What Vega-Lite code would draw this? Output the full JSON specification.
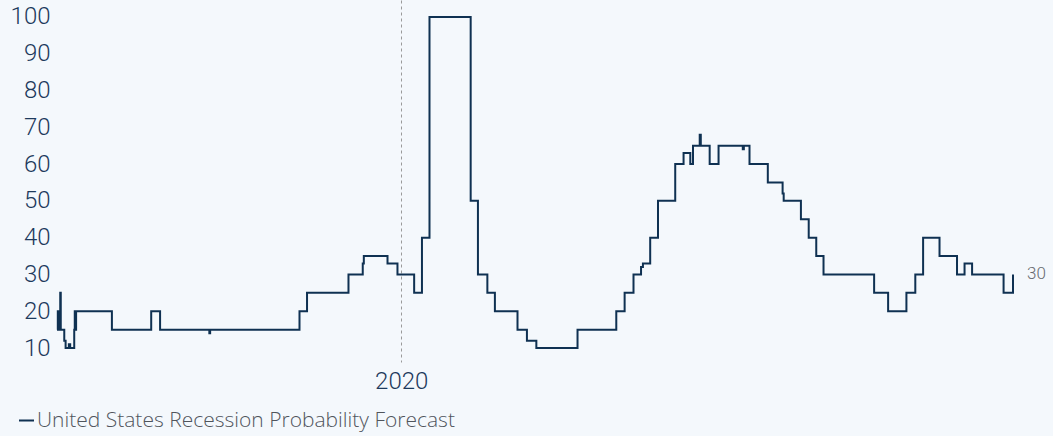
{
  "$schema": "https://vega.github.io/schema/vega-lite/v6.json",
  "width": 956,
  "height": 362,
  "autosize": {"type": "none"},
  "padding": {"left": 57, "top": 0, "right": 40, "bottom": 74},
  "background": "#f4f8fc",
  "config": {"view": {"stroke": null}, "font": "Roboto"},
  "data": {
    "values": [
      {"date": "2016-07-01", "value": 15},
      {"date": "2016-07-04", "value": 20},
      {"date": "2016-07-05", "value": 15},
      {"date": "2016-07-07", "value": 20},
      {"date": "2016-07-11", "value": 15},
      {"date": "2016-07-13", "value": 25},
      {"date": "2016-07-15", "value": 15},
      {"date": "2016-07-28", "value": 12},
      {"date": "2016-08-02", "value": 10},
      {"date": "2016-08-14", "value": 11},
      {"date": "2016-08-19", "value": 10},
      {"date": "2016-09-03", "value": 15},
      {"date": "2016-09-05", "value": 20},
      {"date": "2016-09-08", "value": 15},
      {"date": "2016-09-10", "value": 20},
      {"date": "2017-01-21", "value": 15},
      {"date": "2017-06-16", "value": 20},
      {"date": "2017-07-19", "value": 15},
      {"date": "2018-01-18", "value": 14},
      {"date": "2018-01-21", "value": 15},
      {"date": "2018-12-19", "value": 20},
      {"date": "2019-01-16", "value": 25},
      {"date": "2019-06-19", "value": 30},
      {"date": "2019-08-11", "value": 33},
      {"date": "2019-08-15", "value": 35},
      {"date": "2019-11-11", "value": 33},
      {"date": "2019-12-18", "value": 30},
      {"date": "2020-02-18", "value": 25},
      {"date": "2020-03-18", "value": 40},
      {"date": "2020-04-15", "value": 100},
      {"date": "2020-09-15", "value": 50},
      {"date": "2020-10-12", "value": 30},
      {"date": "2020-11-16", "value": 25},
      {"date": "2020-12-14", "value": 20},
      {"date": "2021-03-08", "value": 15},
      {"date": "2021-04-12", "value": 12},
      {"date": "2021-05-17", "value": 10},
      {"date": "2021-10-17", "value": 15},
      {"date": "2022-03-10", "value": 20},
      {"date": "2022-04-10", "value": 25},
      {"date": "2022-05-13", "value": 30},
      {"date": "2022-06-10", "value": 32},
      {"date": "2022-06-17", "value": 33},
      {"date": "2022-07-14", "value": 40},
      {"date": "2022-08-12", "value": 50},
      {"date": "2022-10-15", "value": 60},
      {"date": "2022-11-15", "value": 63},
      {"date": "2022-12-10", "value": 60},
      {"date": "2022-12-20", "value": 65},
      {"date": "2023-01-14", "value": 68},
      {"date": "2023-01-18", "value": 65},
      {"date": "2023-02-20", "value": 60},
      {"date": "2023-03-25", "value": 65},
      {"date": "2023-06-23", "value": 64},
      {"date": "2023-06-27", "value": 65},
      {"date": "2023-07-18", "value": 60},
      {"date": "2023-09-24", "value": 55},
      {"date": "2023-11-18", "value": 52},
      {"date": "2023-11-22", "value": 50},
      {"date": "2024-01-25", "value": 45},
      {"date": "2024-02-23", "value": 40},
      {"date": "2024-03-22", "value": 35},
      {"date": "2024-04-18", "value": 30},
      {"date": "2024-10-23", "value": 25},
      {"date": "2024-12-14", "value": 20},
      {"date": "2025-02-20", "value": 25},
      {"date": "2025-03-25", "value": 30},
      {"date": "2025-04-23", "value": 40},
      {"date": "2025-06-23", "value": 35},
      {"date": "2025-08-27", "value": 30},
      {"date": "2025-09-24", "value": 33},
      {"date": "2025-10-22", "value": 30},
      {"date": "2026-02-16", "value": 25},
      {"date": "2026-03-23", "value": 30}
    ]
  },
  "layer": [
    {
      "mark": {"type": "line", "interpolate": "step-after", "strokeWidth": 2},
      "encoding": {
        "x": {
          "field": "date",
          "type": "temporal",
          "scale": {
            "type": "utc",
            "nice": false,
            "domain": [
              {"year": 2016, "month": 7, "date": 1, "utc": true},
              {"year": 2026, "month": 3, "date": 23, "utc": true}
            ]
          },
          "axis": {
            "title": null,
            "values": [{"year": 2020, "month": 1, "date": 1, "utc": true}],
            "format": "%Y",
            "domain": false,
            "ticks": false,
            "grid": true,
            "gridDash": [3, 3],
            "gridColor": "#9a9a9a",
            "gridWidth": 1,
            "labelFontSize": 24,
            "labelFontWeight": 300,
            "labelColor": "#1d3a5c",
            "labelPadding": 7,
            "labelFlush": false
          }
        },
        "y": {
          "field": "value",
          "type": "quantitative",
          "scale": {"domain": [6.2, 104.6], "nice": false, "zero": false},
          "axis": {
            "title": null,
            "values": [10, 20, 30, 40, 50, 60, 70, 80, 90, 100],
            "domain": false,
            "ticks": false,
            "grid": false,
            "labelFontSize": 24,
            "labelFontWeight": 300,
            "labelColor": "#1d3a5c",
            "labelPadding": 7
          }
        },
        "color": {
          "datum": "United States Recession Probability Forecast",
          "scale": {"range": ["#0f3152"]},
          "legend": {
            "title": null,
            "orient": "none",
            "legendX": -41,
            "legendY": 410,
            "symbolType": "stroke",
            "symbolSize": 225,
            "symbolStrokeWidth": 2,
            "labelFont": "Open Sans",
            "labelFontSize": 21,
            "labelFontWeight": 300,
            "labelColor": "#50555c",
            "labelOffset": 0,
            "labelLimit": 0,
            "padding": 0
          }
        }
      }
    },
    {
      "data": {"values": [{"date": "2026-03-23", "value": 30}]},
      "mark": {"type": "text", "align": "left", "dx": 14, "fontSize": 17, "fontWeight": 300, "color": "#666a70"},
      "encoding": {
        "x": {"field": "date", "type": "temporal"},
        "y": {"field": "value", "type": "quantitative"},
        "text": {"field": "value", "type": "quantitative"}
      }
    }
  ]
}
